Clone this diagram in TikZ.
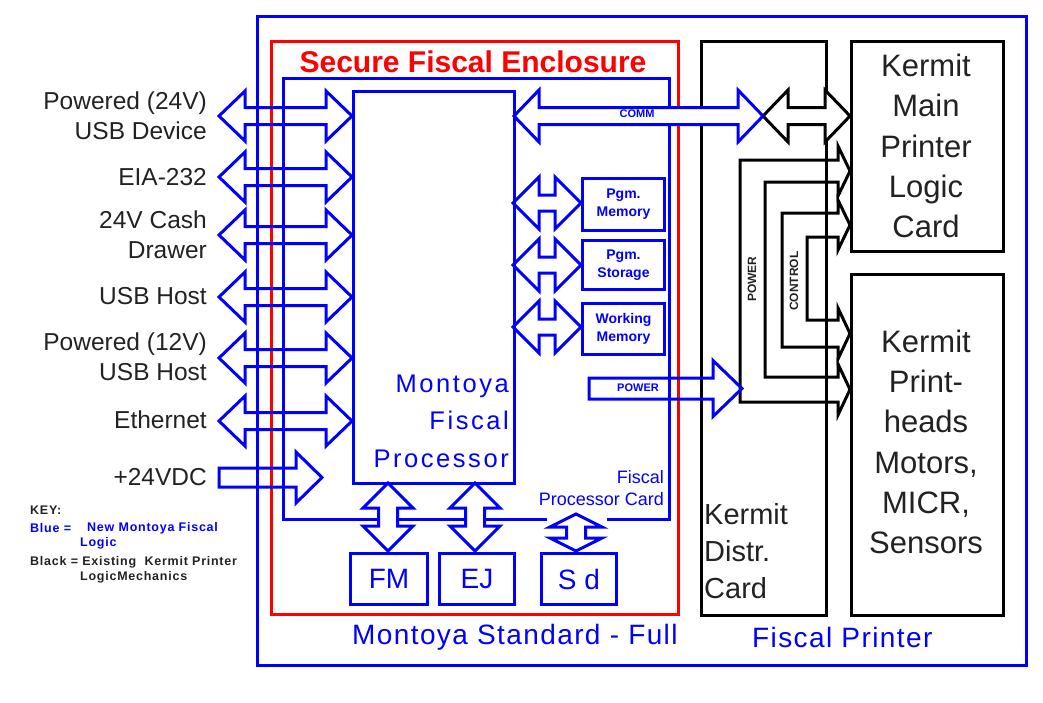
\documentclass[tikz,border=0pt]{standalone}
\usepackage{fontspec}
\setmainfont{Liberation Sans}
\newfontfamily\wideA[LetterSpace=10]{Liberation Sans}
\newfontfamily\wideB[LetterSpace=5]{Liberation Sans}
\newfontfamily\keyfont[LetterSpace=6]{Liberation Sans}
\definecolor{ink}{HTML}{222222}
% block arrows: style, x1 (left tip), x2 (right tip), y, head length, head half-width, shaft half-width
\newcommand\dblH[7]{\draw[#1] (#2,#4) -- ({#2+#5},{#4-#6}) -- ({#2+#5},{#4-#7}) -- ({#3-#5},{#4-#7}) -- ({#3-#5},{#4-#6}) -- (#3,#4) -- ({#3-#5},{#4+#6}) -- ({#3-#5},{#4+#7}) -- ({#2+#5},{#4+#7}) -- ({#2+#5},{#4+#6}) -- cycle;}
% style, x, ytop, ybottom, L, H, S
\newcommand\dblV[7]{\draw[#1] (#2,#3) -- ({#2+#6},{#3+#5}) -- ({#2+#7},{#3+#5}) -- ({#2+#7},{#4-#5}) -- ({#2+#6},{#4-#5}) -- (#2,#4) -- ({#2-#6},{#4-#5}) -- ({#2-#7},{#4-#5}) -- ({#2-#7},{#3+#5}) -- ({#2-#6},{#3+#5}) -- cycle;}
% style, xtail, xtip, y, L, H, S
\newcommand\sglH[7]{\draw[#1] (#2,{#4-#7}) -- ({#3-#5},{#4-#7}) -- ({#3-#5},{#4-#6}) -- (#3,#4) -- ({#3-#5},{#4+#6}) -- ({#3-#5},{#4+#7}) -- (#2,{#4+#7}) -- cycle;}
\begin{document}
\begin{tikzpicture}[x=1pt,y=-1pt,line join=miter]
\useasboundingbox (0,0) rectangle (1043,702);
\tikzset{
 bl/.style={draw=blue,line width=3pt},
 rd/.style={draw=red,line width=3pt},
 bk/.style={draw=black,line width=3pt},
 box/.style={inner sep=0pt,anchor=north west},
 lbl/.style={font=\fontsize{24.5}{30}\selectfont,text=ink,align=right,anchor=east,inner sep=0pt},
 keytxt/.style={font=\keyfont\bfseries\fontsize{12.5}{14}\selectfont,text=ink,anchor=west,inner sep=0pt},
 small/.style={font=\bfseries\fontsize{14}{18}\selectfont,text=blue,align=center,inner sep=0pt},
 tiny/.style={font=\bfseries\fontsize{11}{12}\selectfont,text=blue,inner sep=0pt},
 vtiny/.style={font=\bfseries\fontsize{12}{13}\selectfont,text=ink,inner sep=0pt,rotate=90},
 big/.style={font=\fontsize{31}{40.3}\selectfont,text=ink,align=center,inner sep=0pt},
 btxt/.style={font=\fontsize{28}{34}\selectfont,text=blue,inner sep=0pt}
}
% frames
\node[bl,box,minimum width=769pt,minimum height=649pt] (frame) at (256,15) {};
\node[rd,box,minimum width=407pt,minimum height=573pt] (encl) at (270,40) {};
\draw[bl] (547,519) -- (283,519) -- (283,78) -- (669,78) -- (669,519) -- (607,519);
% kermit boxes
\node[bk,box,minimum width=125pt,minimum height=574pt] (distr) at (700,40) {};
\node[bk,box,minimum width=152pt,minimum height=210pt] (logic) at (850,40) {};
\node[bk,box,minimum width=152pt,minimum height=341pt] (heads) at (850,273) {};
% power / control buses
\draw[bk] (740,160) -- (838,160) -- (838,146) -- (850,171) -- (838,196) -- (838,182) -- (765,182) -- (765,377) -- (838,377) -- (838,364) -- (850,389.5) -- (838,415) -- (838,402) -- (740,402) -- cycle;
\draw[bk] (782,213) -- (838,213) -- (838,200) -- (850,225) -- (838,250) -- (838,237) -- (807,237) -- (807,320) -- (838,320) -- (838,308) -- (850,333.5) -- (838,359) -- (838,347) -- (782,347) -- cycle;
\node[vtiny] (pwrlbl) at (752,279) {POWER};
\node[vtiny] (ctllbl) at (794,281) {CONTROL};
% processor and memories
\node[bl,box,minimum width=161pt,minimum height=392pt] (proc) at (352,90) {};
\node[bl,box,minimum width=82pt,minimum height=52pt] (pgm1) at (581,177) {};
\node[bl,box,minimum width=82pt,minimum height=49pt] (pgm2) at (581,239) {};
\node[bl,box,minimum width=82pt,minimum height=51pt] (wmem) at (581,302) {};
\node[small] at (pgm1.center) {Pgm.\\Memory};
\node[small] at (pgm2.center) {Pgm.\\Storage};
\node[small] at (wmem.center) {Working\\Memory};
\node[bl,box,minimum width=77pt,minimum height=51pt] (fm) at (349,552) {};
\node[bl,box,minimum width=75pt,minimum height=51pt] (ej) at (438,552) {};
\node[bl,box,minimum width=75pt,minimum height=51pt] (sd) at (540,552) {};
\node[btxt] at (fm.center) {FM};
\node[btxt] at (ej.center) {EJ};
\node[btxt] at (sd.center) {S d};
\node[font=\wideA\fontsize{25.5}{37.5}\selectfont,text=blue,align=right,anchor=east,inner sep=0pt] (proctxt) at (509,421) {Montoya\\Fiscal\\Processor};
\node[font=\fontsize{18}{22}\selectfont,text=blue,align=right,anchor=east,inner sep=0pt] (fpc) at (664,488) {Fiscal\\Processor Card};
% left interface arrows
\foreach \yy in {116,177,235,297,358,421}{\dblH{bl}{219}{352}{\yy}{26}{25}{8.5}}
\sglH{bl}{219}{322}{477.5}{26}{25.5}{9.5}
\node[lbl] (l1) at (207,116) {Powered (24V)\\USB Device};
\node[lbl] (l2) at (207,177) {EIA-232};
\node[lbl] (l3) at (207,235) {24V Cash\\Drawer};
\node[lbl] (l4) at (207,296) {USB Host};
\node[lbl] (l5) at (207,357) {Powered (12V)\\USB Host};
\node[lbl] (l6) at (207,420) {Ethernet};
\node[lbl] (l7) at (207,477) {+24VDC};
% comm arrows
\dblH{bk,fill=white}{763}{850}{116}{25}{26}{8.5}
\dblH{bl,fill=white}{514}{763}{116}{25}{26}{8.5}
\node[tiny] (comm) at (637,114) {COMM};
% memory arrows
\foreach \yy in {203,265,327}{\dblH{bl}{513}{581}{\yy}{26}{26}{8}}
% power arrow
\sglH{bl}{589}{742}{388.5}{29}{28}{10.5}
\node[tiny] (pwr) at (638,388) {POWER};
% vertical arrows
\dblV{bl,fill=white}{388}{483}{551}{25}{25}{9.5}
\dblV{bl,fill=white}{475}{483}{551}{25}{25}{9.5}
\dblV{bl,fill=white}{576}{514}{551}{13}{26}{9.5}
% right texts
\node[big] (lgtxt) at (926,146) {Kermit\\Main\\Printer\\Logic\\Card};
\node[big] (hdtxt) at (926,442) {Kermit\\Print-\\heads\\Motors,\\MICR,\\Sensors};
\node[font=\fontsize{29}{37}\selectfont,text=ink,align=left,anchor=west,inner sep=0pt] (dtxt) at (704,551) {Kermit\\Distr.\\Card};
% title and bottom
\node[font=\bfseries\fontsize{30}{36}\selectfont,text=red,inner sep=0pt] (title) at (473,62) {Secure Fiscal Enclosure};
\node[font=\wideB\fontsize{28}{34}\selectfont,text=blue,anchor=west,inner sep=0pt] (b1) at (352,637) {Montoya Standard - Full};
\node[font=\wideB\fontsize{28}{34}\selectfont,text=blue,anchor=west,inner sep=0pt] (b2) at (752,637) {Fiscal Printer};
% key
\node[keytxt] (k1) at (30,510) {KEY:};
\node[keytxt,text=blue] (k2) at (30,528) {Blue =};
\node[keytxt,text=blue] (k3) at (87,528) {New Montoya Fiscal};
\node[keytxt,text=blue] (k4) at (80,543) {Logic};
\node[keytxt] (k5) at (30,562) {Black = Existing\ \ Kermit Printer};
\node[keytxt] (k6) at (80,577) {LogicMechanics};
\end{tikzpicture}
\end{document}
